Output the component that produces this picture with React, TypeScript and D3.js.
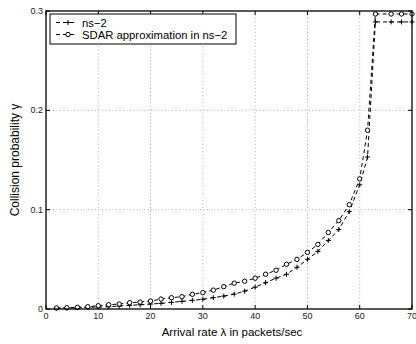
import React from "react";
import * as d3 from "d3";

const xValues = [2,4,6,8,10,12,14,16,18,20,22,24,26,28,30,32,34,36,38,40,42,44,46,48,50,52,54,56,58,60,61.5,63,66,68,70];
const ns2 = [0.0007,0.001,0.0013,0.0017,0.002,0.0023,0.003,0.0037,0.0043,0.005,0.0057,0.0067,0.0077,0.0087,0.0098,0.0114,0.013,0.015,0.018,0.022,0.0265,0.031,0.035,0.042,0.050,0.058,0.069,0.080,0.098,0.125,0.153,0.289,0.289,0.289,0.289];
const sdar = [0.001,0.0013,0.0017,0.0023,0.0033,0.0043,0.005,0.0063,0.007,0.008,0.010,0.0114,0.0124,0.0148,0.0165,0.019,0.0225,0.026,0.028,0.031,0.035,0.039,0.045,0.050,0.057,0.065,0.077,0.089,0.105,0.131,0.18,0.297,0.297,0.297,0.297];
const xTicks = [0,10,20,30,40,50,60,70];
const yTicks = [0,0.1,0.2,0.3];
const seriesNames = ["ns\u22122", "SDAR approximation in ns\u22122"];

const W = 416, H = 344;
const M = { left: 46, right: 412, top: 11, bottom: 309 };
const font = "'Liberation Sans', Arial, Helvetica, sans-serif";

export default function App() {
  const x = d3.scaleLinear().domain([0, 70]).range([M.left, M.right]);
  const y = d3.scaleLinear().domain([0, 0.3]).range([M.bottom, M.top]);
  const line = d3.line<number>().x((_, i) => x(xValues[i])).y((d) => y(d));
  const tickFmt = (v: number) => (v === 0 ? "0" : d3.format(".1f")(v));

  const plus = (cx: number, cy: number, key: string) => (
    <g key={key} stroke="#000" strokeWidth={1}>
      <line x1={cx - 2.5} x2={cx + 2.5} y1={cy} y2={cy} />
      <line x1={cx} x2={cx} y1={cy - 2.5} y2={cy + 2.5} />
    </g>
  );
  const circ = (cx: number, cy: number, key: string) => (
    <circle key={key} cx={cx} cy={cy} r={2.2} fill="#fff" stroke="#000" strokeWidth={1} />
  );

  return (
    <svg width={W} height={H} style={{ position: "absolute", left: 0, top: 0, background: "#fff" }} fontFamily={font}>
      <rect x={0} y={0} width={W} height={H} fill="#fff" />
      {/* grid */}
      <g stroke="#999" strokeWidth={0.8} strokeDasharray="1,2.5">
        {xTicks.slice(1, -1).map((t) => (
          <line key={"gx" + t} x1={x(t)} x2={x(t)} y1={M.top} y2={M.bottom} />
        ))}
        {yTicks.slice(1, -1).map((t) => (
          <line key={"gy" + t} x1={M.left} x2={M.right} y1={y(t)} y2={y(t)} />
        ))}
      </g>
      {/* ticks */}
      <g stroke="#000" strokeWidth={1}>
        {xTicks.map((t) => (
          <g key={"tx" + t}>
            <line x1={x(t)} x2={x(t)} y1={M.bottom} y2={M.bottom - 4} />
            <line x1={x(t)} x2={x(t)} y1={M.top} y2={M.top + 4} />
          </g>
        ))}
        {yTicks.map((t) => (
          <g key={"ty" + t}>
            <line x1={M.left} x2={M.left + 4} y1={y(t)} y2={y(t)} />
            <line x1={M.right} x2={M.right - 4} y1={y(t)} y2={y(t)} />
          </g>
        ))}
      </g>
      {/* series lines */}
      <path d={line(ns2) || ""} fill="none" stroke="#000" strokeWidth={1} strokeDasharray="4,3" />
      <path d={line(sdar) || ""} fill="none" stroke="#000" strokeWidth={1} strokeDasharray="4,3" />
      {ns2.map((v, i) => plus(x(xValues[i]), y(v), "p" + i))}
      {sdar.map((v, i) => circ(x(xValues[i]), y(v), "c" + i))}
      {/* axes box */}
      <rect x={M.left} y={M.top} width={M.right - M.left} height={M.bottom - M.top} fill="none" stroke="#000" strokeWidth={1.3} />
      {/* tick labels */}
      <g fontSize={9} fill="#222">
        {xTicks.map((t) => (
          <text key={"lx" + t} x={x(t)} y={M.bottom + 9.5} textAnchor="middle">{t}</text>
        ))}
        {yTicks.map((t) => (
          <text key={"ly" + t} x={M.left - 3} y={y(t) + 3} textAnchor="end">{tickFmt(t)}</text>
        ))}
      </g>
      {/* axis labels */}
      <text x={232} y={336} fontSize={11.5} textAnchor="middle" fill="#000">
        Arrival rate λ in packets/sec
      </text>
      <text transform={`translate(19,160) rotate(-90)`} fontSize={12} textAnchor="middle" fill="#000">
        Collision probability γ
      </text>
      {/* legend */}
      <g>
        <rect x={50} y={14} width={186} height={30} fill="#fff" stroke="#000" strokeWidth={1} />
        {seriesNames.map((name, i) => {
          const ly = 22.5 + i * 12;
          return (
            <g key={"lg" + i}>
              <line x1={56} x2={74} y1={ly} y2={ly} stroke="#000" strokeWidth={1} strokeDasharray="4,3" />
              {i === 0 ? plus(68, ly, "lp") : circ(68, ly, "lc")}
              <text x={82} y={ly + 4} fontSize={11.3} fill="#000">{name}</text>
            </g>
          );
        })}
      </g>
    </svg>
  );
}
